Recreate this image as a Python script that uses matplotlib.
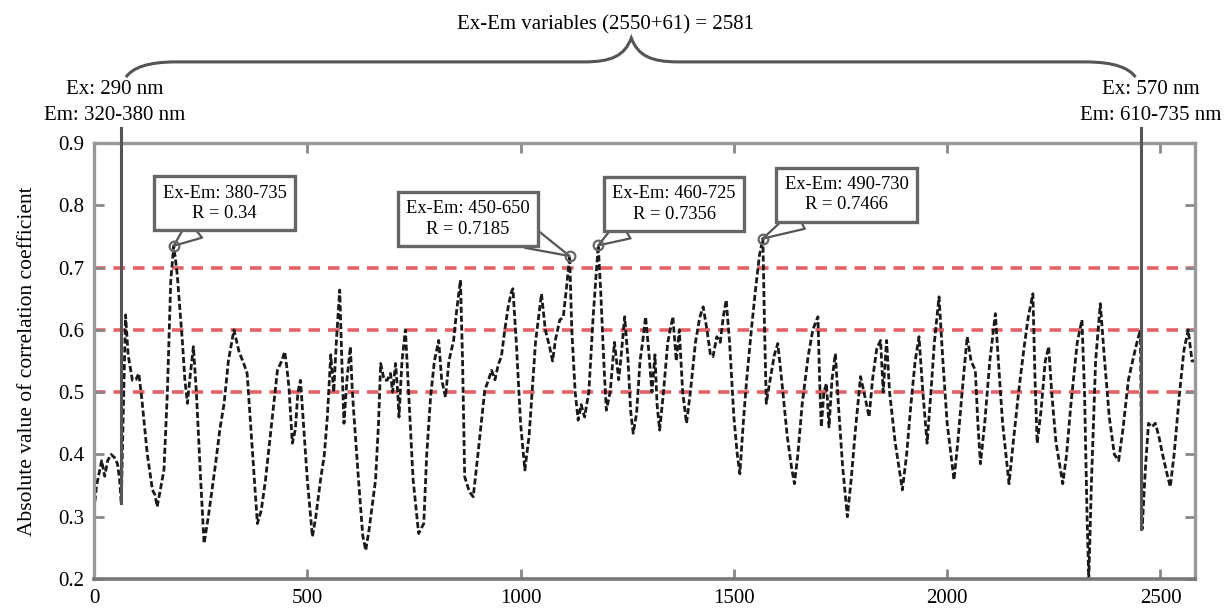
import numpy as np
import matplotlib
matplotlib.use('Agg')
import matplotlib.pyplot as plt
from matplotlib.path import Path
from matplotlib.patches import PathPatch

plt.rcParams['font.family'] = ['Liberation Serif', 'DejaVu Serif']

# variable index (Ex-Em pair) and |r|
var_index = [0, 6, 12, 18, 25, 32, 40, 48, 55, 60, 64, 68, 74, 80, 90, 98, 105, 112, 125, 137,
             143, 148, 156, 164, 172, 180, 187, 195, 207, 213, 219, 226, 233, 240, 250, 258, 268, 285, 295, 305,
             315, 328, 340, 351, 359, 370, 383, 392, 402, 415, 430, 440, 447, 452, 457, 465, 472, 478, 484, 490,
             500, 512, 520, 531, 540, 547, 555, 562, 568, 576, 581, 586, 593, 601, 605, 609, 620, 630, 637, 645,
             660, 667, 672, 680, 687, 695, 700, 707, 712, 715, 722, 730, 738, 748, 761, 773, 780, 789, 798, 808,
             815, 824, 832, 843, 850, 859, 864, 869, 880, 889, 900, 916, 925, 932, 940, 948, 955, 963, 971, 978,
             982, 990, 1000, 1010, 1020, 1035, 1049, 1058, 1068, 1075, 1082, 1092, 1100, 1108, 1115, 1120, 1128, 1135, 1142, 1150,
             1160, 1170, 1182, 1188, 1195, 1201, 1210, 1220, 1230, 1236, 1244, 1252, 1258, 1264, 1272, 1280, 1286, 1293, 1300, 1308,
             1315, 1320, 1326, 1335, 1345, 1357, 1365, 1372, 1380, 1389, 1398, 1410, 1420, 1428, 1437, 1445, 1451, 1460, 1468, 1475,
             1482, 1490, 1500, 1508, 1514, 1522, 1530, 1541, 1550, 1560, 1568, 1572, 1576, 1585, 1595, 1603, 1612, 1625, 1635, 1642,
             1650, 1660, 1674, 1685, 1697, 1701, 1705, 1711, 1717, 1723, 1730, 1738, 1745, 1755, 1766, 1775, 1785, 1797, 1805, 1817,
             1825, 1835, 1844, 1850, 1858, 1865, 1878, 1895, 1905, 1915, 1925, 1934, 1943, 1953, 1962, 1970, 1981, 1990, 2000, 2016,
             2025, 2035, 2047, 2056, 2066, 2072, 2078, 2088, 2100, 2113, 2120, 2130, 2145, 2155, 2168, 2180, 2190, 2201, 2206, 2211,
             2220, 2230, 2238, 2245, 2255, 2271, 2280, 2290, 2305, 2316, 2322, 2328, 2332, 2338, 2348, 2359, 2368, 2380, 2392, 2402,
             2412, 2425, 2437, 2445, 2453, 2455, 2457, 2465, 2472, 2480, 2488, 2496, 2505, 2515, 2523, 2532, 2545, 2555, 2565, 2574,
             2581]
abs_r = [0.31, 0.35, 0.37, 0.39, 0.365, 0.39, 0.40, 0.395, 0.385, 0.36, 0.32, 0.45, 0.624, 0.56, 0.519, 0.52, 0.53, 0.49, 0.40, 0.343,
         0.335, 0.316, 0.345, 0.375, 0.50, 0.68, 0.735, 0.69, 0.583, 0.52, 0.482, 0.53, 0.573, 0.50, 0.36, 0.257, 0.30, 0.385, 0.44, 0.482,
         0.55, 0.60, 0.565, 0.546, 0.53, 0.42, 0.289, 0.31, 0.359, 0.44, 0.535, 0.55, 0.565, 0.54, 0.508, 0.418, 0.44, 0.50, 0.519, 0.46,
         0.36, 0.268, 0.30, 0.359, 0.40, 0.46, 0.56, 0.50, 0.58, 0.664, 0.55, 0.45, 0.52, 0.573, 0.51, 0.466, 0.36, 0.27, 0.246, 0.28,
         0.359, 0.45, 0.546, 0.52, 0.519, 0.53, 0.50, 0.546, 0.50, 0.46, 0.55, 0.60, 0.492, 0.36, 0.273, 0.289, 0.40, 0.492, 0.55, 0.583,
         0.52, 0.492, 0.55, 0.583, 0.63, 0.68, 0.55, 0.364, 0.34, 0.332, 0.40, 0.503, 0.52, 0.535, 0.52, 0.545, 0.557, 0.60, 0.637, 0.66,
         0.666, 0.58, 0.45, 0.375, 0.43, 0.58, 0.658, 0.60, 0.573, 0.55, 0.585, 0.616, 0.62, 0.67, 0.7185, 0.60, 0.50, 0.455, 0.48, 0.46,
         0.50, 0.62, 0.7356, 0.66, 0.55, 0.471, 0.50, 0.58, 0.52, 0.56, 0.621, 0.55, 0.47, 0.434, 0.466, 0.55, 0.58, 0.621, 0.57, 0.50,
         0.56, 0.48, 0.439, 0.50, 0.58, 0.621, 0.55, 0.60, 0.50, 0.45, 0.50, 0.58, 0.62, 0.637, 0.60, 0.56, 0.557, 0.589, 0.58, 0.62,
         0.648, 0.58, 0.46, 0.40, 0.369, 0.45, 0.52, 0.60, 0.66, 0.72, 0.7466, 0.60, 0.482, 0.52, 0.56, 0.578, 0.52, 0.43, 0.38, 0.353,
         0.40, 0.48, 0.557, 0.60, 0.621, 0.52, 0.444, 0.50, 0.514, 0.444, 0.52, 0.562, 0.48, 0.38, 0.30, 0.36, 0.44, 0.525, 0.50, 0.46,
         0.52, 0.57, 0.583, 0.50, 0.583, 0.50, 0.42, 0.343, 0.40, 0.48, 0.55, 0.589, 0.50, 0.418, 0.50, 0.58, 0.653, 0.55, 0.45, 0.359,
         0.42, 0.50, 0.589, 0.55, 0.535, 0.45, 0.385, 0.45, 0.55, 0.626, 0.55, 0.45, 0.353, 0.42, 0.503, 0.57, 0.62, 0.658, 0.52, 0.418,
         0.47, 0.55, 0.573, 0.50, 0.42, 0.353, 0.40, 0.48, 0.58, 0.616, 0.50, 0.30, 0.20, 0.35, 0.55, 0.642, 0.56, 0.46, 0.40, 0.39,
         0.44, 0.52, 0.557, 0.58, 0.60, 0.45, 0.28, 0.38, 0.45, 0.444, 0.45, 0.43, 0.40, 0.37, 0.348, 0.40, 0.50, 0.567, 0.60, 0.55,
         0.55]

thresholds = [0.5, 0.6, 0.7]

peak_x = [187, 1115, 1182, 1568]
peak_r = [0.735, 0.7185, 0.7356, 0.7466]
peak_labels = ['Ex-Em: 380-735\nR = 0.34', 'Ex-Em: 450-650\nR = 0.7185',
               'Ex-Em: 460-725\nR = 0.7356', 'Ex-Em: 490-730\nR = 0.7466']
box_x = [306, 877, 1360, 1764]
box_y = [0.803, 0.778, 0.802, 0.817]
base_x = [237, 1021, 1244, 1654]
base_y = [0.762, 0.748, 0.762, 0.778]

first_var = 64
last_var = 2455

fig = plt.figure(figsize=(12.27, 6.09), dpi=100)
ax = fig.add_axes([94/1227, 30/609, 1101/1227, 436/609])

for t in thresholds:
    ax.axhline(t, color='#e0474c', lw=2.6, alpha=0.85, dashes=(3.2, 2.2), zorder=1)

ax.plot(var_index, abs_r, color='#1a1a1a', lw=2.0, dashes=(2.2, 1.0), zorder=2)

# boundary lines of the excitation range
ax.plot([first_var, first_var], [0.322, 0.924], color='#555555', lw=2.2, clip_on=False, zorder=3)
ax.plot([last_var, last_var], [0.28, 0.924], color='#555555', lw=2.2, clip_on=False, zorder=3)

for i in range(len(peak_x)):
    ax.annotate('', xy=(peak_x[i], peak_r[i]), xytext=(base_x[i], base_y[i]),
                arrowprops=dict(arrowstyle='wedge,tail_width=0.8', mutation_scale=20,
                                fc='white', ec='#555555', lw=1.6, shrinkA=0, shrinkB=0),
                zorder=4)
    ax.text(box_x[i], box_y[i], peak_labels[i], ha='center', va='center', fontsize=13.3,
            linespacing=1.25, zorder=5,
            bbox=dict(boxstyle='square,pad=0.45', fc='white', ec='#666666', lw=2.4))
ax.plot(peak_x, peak_r, 'o', ms=7, mfc='none', mec='#666666', mew=1.6, zorder=6)

ax.set_xlim(0, 2581)
ax.set_ylim(0.2, 0.9)
ax.set_xticks([0, 500, 1000, 1500, 2000, 2500])
ax.set_yticks([0.2, 0.3, 0.4, 0.5, 0.6, 0.7, 0.8, 0.9])
ax.set_yticklabels(['0.2', '0.3', '0.4', '0.5', '0.6', '0.7', '0.8', '0.9'])
ax.tick_params(direction='in', length=7, width=2, color='#888888', labelsize=15, pad=7,
               top=True, right=True)
for side in ['left', 'right', 'top']:
    ax.spines[side].set_color('#999999')
    ax.spines[side].set_linewidth(2.4)
ax.spines['bottom'].set_color('#777777')
ax.spines['bottom'].set_linewidth(2.6)
ax.set_ylabel('Absolute value of correlation coefficient', fontsize=15.5, labelpad=15)

# curly brace over the whole variable range
verts = [(0.029, 1.151), (0.035, 1.172), (0.048, 1.186), (0.075, 1.186),
         (0.445, 1.186),
         (0.470, 1.186), (0.482, 1.200), (0.488, 1.241),
         (0.494, 1.200), (0.506, 1.186), (0.531, 1.186),
         (0.900, 1.186),
         (0.927, 1.186), (0.940, 1.172), (0.946, 1.151)]
codes = [Path.MOVETO, Path.CURVE4, Path.CURVE4, Path.CURVE4,
         Path.LINETO,
         Path.CURVE4, Path.CURVE4, Path.CURVE4,
         Path.CURVE4, Path.CURVE4, Path.CURVE4,
         Path.LINETO,
         Path.CURVE4, Path.CURVE4, Path.CURVE4]
brace = PathPatch(Path(verts, codes), fc='none', ec='#555555', lw=2.2,
                  transform=ax.transAxes, clip_on=False)
ax.add_patch(brace)

ax.text(0.465, 1.271, 'Ex-Em variables (2550+61) = 2581', transform=ax.transAxes,
        ha='center', va='center', fontsize=15)
ax.text(0.019, 1.122, 'Ex: 290 nm', transform=ax.transAxes, ha='center', va='center', fontsize=15)
ax.text(0.019, 1.064, 'Em: 320-380 nm', transform=ax.transAxes, ha='center', va='center', fontsize=15)
ax.text(0.960, 1.122, 'Ex: 570 nm', transform=ax.transAxes, ha='center', va='center', fontsize=15)
ax.text(0.960, 1.064, 'Em: 610-735 nm', transform=ax.transAxes, ha='center', va='center', fontsize=15)

fig.savefig('out.png', dpi=100)
